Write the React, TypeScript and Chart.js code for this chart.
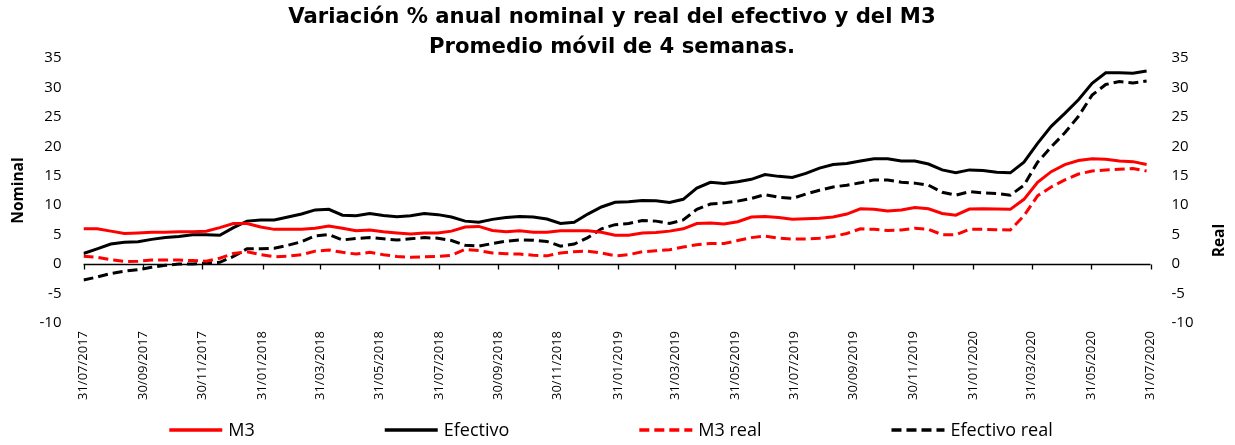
import React, { useEffect, useRef } from 'react';
import { Chart, registerables } from 'chart.js';

Chart.register(...registerables);

// X-axis tick labels (month ends, every two months)
const tickLabels = [
  '31/07/2017', '30/09/2017', '30/11/2017', '31/01/2018', '31/03/2018', '31/05/2018',
  '31/07/2018', '30/09/2018', '30/11/2018', '31/01/2019', '31/03/2019', '31/05/2019',
  '31/07/2019', '30/09/2019', '30/11/2019', '31/01/2020', '31/03/2020', '31/05/2020',
  '31/07/2020',
];

// Observations: one every two weeks starting 31/07/2017
const START_DATE = '31/07/2017';
const STEP_DAYS = 14;

const seriesNames = ['M3', 'Efectivo', 'M3 real', 'Efectivo real'];

const m3 = [
  6.0, 6.0, 5.6, 5.2, 5.3, 5.4, 5.4, 5.5, 5.5, 5.6,
  6.2, 6.9, 6.9, 6.3, 5.9, 5.9, 5.9, 6.1, 6.45, 6.1,
  5.65, 5.8, 5.5, 5.3, 5.1, 5.3, 5.3, 5.6, 6.3, 6.4,
  5.7, 5.5, 5.65, 5.4, 5.4, 5.65, 5.65, 5.65, 5.4, 4.9,
  4.9, 5.3, 5.35, 5.6, 6.0, 6.9, 7.0, 6.8, 7.2, 8.0,
  8.1, 7.9, 7.6, 7.7, 7.8, 8.0, 8.5, 9.4, 9.3, 9.0,
  9.2, 9.6, 9.4, 8.6, 8.3, 9.35, 9.4, 9.35, 9.3, 11.0,
  13.9, 15.7, 16.9, 17.6, 17.9, 17.8, 17.5, 17.4, 16.9,
];

const efectivo = [
  1.8, 2.6, 3.4, 3.7, 3.8, 4.2, 4.5, 4.7, 5.0, 5.0,
  4.9, 6.2, 7.3, 7.5, 7.5, 8.0, 8.5, 9.2, 9.3, 8.3,
  8.2, 8.6, 8.25, 8.05, 8.2, 8.6, 8.4, 8.0, 7.3, 7.1,
  7.6, 7.9, 8.1, 8.0, 7.65, 6.9, 7.1, 8.5, 9.7, 10.5,
  10.6, 10.8, 10.75, 10.45, 11.0, 12.9, 13.9, 13.7, 14.0, 14.4,
  15.2, 14.9, 14.7, 15.4, 16.3, 16.9, 17.1, 17.5, 17.9, 17.9,
  17.5, 17.5, 17.0, 16.0, 15.5, 16.0, 15.9, 15.6, 15.5, 17.3,
  20.5, 23.4, 25.6, 27.9, 30.7, 32.5, 32.5, 32.4, 32.8,
];

const m3Real = [
  1.35, 1.15, 0.75, 0.45, 0.5, 0.7, 0.7, 0.7, 0.6, 0.5,
  1.0, 1.8, 2.1, 1.6, 1.25, 1.35, 1.6, 2.2, 2.4, 2.0,
  1.7, 2.0, 1.6, 1.3, 1.15, 1.25, 1.3, 1.5, 2.5, 2.3,
  1.9, 1.75, 1.7, 1.5, 1.4, 1.9, 2.1, 2.2, 1.9, 1.4,
  1.6, 2.1, 2.25, 2.45, 2.9, 3.3, 3.5, 3.5, 4.0, 4.5,
  4.75, 4.4, 4.25, 4.25, 4.4, 4.7, 5.2, 6.0, 5.9, 5.7,
  5.8, 6.1, 5.9, 5.0, 5.0, 5.9, 5.9, 5.85, 5.8, 8.2,
  11.6, 13.1, 14.3, 15.3, 15.8, 16.0, 16.1, 16.25, 15.8,
];

const efectivoReal = [
  -2.7, -2.2, -1.6, -1.2, -0.95, -0.55, -0.2, 0.0, 0.0, 0.2,
  0.3, 1.3, 2.6, 2.6, 2.7, 3.2, 3.8, 4.8, 5.0, 4.1,
  4.35, 4.5, 4.3, 4.1, 4.3, 4.5, 4.4, 4.0, 3.2, 3.05,
  3.5, 3.9, 4.1, 4.05, 3.85, 3.05, 3.4, 4.5, 6.0, 6.7,
  6.9, 7.4, 7.3, 6.9, 7.5, 9.3, 10.2, 10.4, 10.7, 11.15,
  11.8, 11.35, 11.15, 11.9, 12.55, 13.1, 13.4, 13.8, 14.3, 14.3,
  13.9, 13.75, 13.4, 12.2, 11.7, 12.3, 12.1, 12.0, 11.7, 13.4,
  17.3, 19.9, 22.3, 25.1, 28.7, 30.5, 31.0, 30.75, 31.1,
];

const titleLines = ['Variación % anual nominal y real del efectivo y del M3', 'Promedio móvil de 4 semanas.'];
const leftAxisTitle = 'Nominal';
const rightAxisTitle = 'Real';

const RED = '#FF0000';
const BLACK = '#000000';
const DASH = [10, 5];
const FONT = "'Open Sans', sans-serif";

function toUTC(label: string) {
  const [d, m, y] = label.split('/').map(Number);
  return Date.UTC(y, m - 1, d);
}
function dayOffset(label: string) {
  return Math.round((toUTC(label) - toUTC(START_DATE)) / 86400000);
}

export default function App() {
  const ref = useRef<HTMLCanvasElement>(null);

  useEffect(() => {
    if (!ref.current) return;
    const tickDays = tickLabels.map(dayOffset);
    const toPts = (arr: number[]) => arr.map((y, i) => ({ x: i * STEP_DAYS, y }));

    const styles = [
      { color: RED, dash: [] as number[] },
      { color: BLACK, dash: [] as number[] },
      { color: RED, dash: DASH },
      { color: BLACK, dash: DASH },
    ];
    const values = [m3, efectivo, m3Real, efectivoReal];

    const extras = {
      id: 'extras',
      beforeDatasetsDraw(chart: any) {
        const { ctx, chartArea, scales } = chart;
        const y0 = Math.round(scales.y.getPixelForValue(0)) + 0.5;
        ctx.save();
        ctx.strokeStyle = '#000';
        ctx.lineWidth = 1.3;
        ctx.beginPath();
        ctx.moveTo(chartArea.left, y0);
        ctx.lineTo(chartArea.right, y0);
        tickDays.forEach((d) => {
          const px = Math.round(scales.x.getPixelForValue(d)) + 0.5;
          ctx.moveTo(px, y0);
          ctx.lineTo(px, y0 + 5);
        });
        ctx.stroke();
        ctx.restore();
      },
      afterDraw(chart: any) {
        const { ctx, chartArea, scales, width } = chart;
        ctx.save();
        ctx.fillStyle = '#000';
        // title
        ctx.font = "bold 21.2px 'DejaVu Sans', sans-serif";
        ctx.textAlign = 'center';
        ctx.textBaseline = 'middle';
        const cx = 612;
        ctx.fillText(titleLines[0], cx, 17);
        ctx.fillText(titleLines[1], cx, 47);

        // axis titles
        ctx.font = `bold 15.5px ${FONT}`;
        const yTop = scales.y.getPixelForValue(35);
        const yBot = scales.y.getPixelForValue(-10);
        ctx.save();
        ctx.translate(19, (yTop + yBot) / 2);
        ctx.rotate(-Math.PI / 2);
        ctx.fillText(leftAxisTitle, 0, 0);
        ctx.restore();
        ctx.save();
        ctx.translate(width - 15, scales.y.getPixelForValue(4));
        ctx.rotate(-Math.PI / 2);
        ctx.fillText(rightAxisTitle, 0, 0);
        ctx.restore();

        // legend
        ctx.font = `18px ${FONT}`;
        ctx.textAlign = 'left';
        const lineW = 53;
        const gap = 6;
        const spacing = 130;
        const widths = seriesNames.map((n) => lineW + gap + ctx.measureText(n).width);
        const total = widths.reduce((a, b) => a + b, 0) + spacing * (seriesNames.length - 1);
        let x = (chartArea.left + chartArea.right) / 2 - 6 - total / 2;
        const ly = 430;
        seriesNames.forEach((n, i) => {
          ctx.strokeStyle = styles[i].color;
          ctx.lineWidth = 3.5;
          ctx.setLineDash(styles[i].dash);
          ctx.beginPath();
          ctx.moveTo(x, ly);
          ctx.lineTo(x + lineW, ly);
          ctx.stroke();
          ctx.setLineDash([]);
          ctx.fillText(n, x + lineW + gap, ly + 1);
          x += widths[i] + spacing;
        });
        ctx.restore();
      },
    };

    const yTicks = (pad: number) => ({
      stepSize: 5,
      padding: pad,
      color: '#000',
      font: { family: FONT, size: 15 },
    });

    const chart = new Chart(ref.current, {
      type: 'line',
      data: {
        datasets: seriesNames.map((name, i) => ({
          label: name,
          data: toPts(values[i]),
          borderColor: styles[i].color,
          backgroundColor: styles[i].color,
          borderWidth: 3,
          borderDash: styles[i].dash,
          pointRadius: 0,
          tension: 0,
          fill: false,
          yAxisID: 'y',
        })),
      },
      options: {
        responsive: false,
        animation: false,
        events: [],
        layout: { padding: { top: 58, bottom: 38, left: 0, right: 0 } },
        plugins: {
          legend: { display: false },
          title: { display: false },
          tooltip: { enabled: false },
        },
        scales: {
          x: {
            type: 'linear',
            min: 0,
            max: tickDays[tickDays.length - 1],
            grid: { display: false, drawTicks: false },
            border: { display: false },
            afterBuildTicks: (s: any) => {
              s.ticks = tickDays.map((v) => ({ value: v }));
            },
            afterFit: (s: any) => {
              s.height = 84;
            },
            ticks: {
              autoSkip: false,
              maxRotation: 90,
              minRotation: 90,
              padding: 8,
              color: '#000',
              font: { family: FONT, size: 13 },
              callback: (_v: any, i: number) => tickLabels[i],
            },
          },
          y: {
            position: 'left',
            min: -10,
            max: 35,
            grid: { display: false, drawTicks: false },
            border: { display: false },
            ticks: yTicks(22),
            afterFit: (s: any) => {
              s.width = 83.5;
            },
          },
          y1: {
            position: 'right',
            min: -10,
            max: 35,
            grid: { display: false, drawTicks: false },
            border: { display: false },
            ticks: yTicks(21),
            afterFit: (s: any) => {
              s.width = 84.5;
            },
          },
        },
      } as any,
      plugins: [extras],
    });
    return () => chart.destroy();
  }, []);

  return (
    <div style={{ position: 'fixed', left: 0, top: 0, width: 1235, height: 445, background: '#fff' }}>
      <canvas ref={ref} width={1235} height={445} style={{ display: 'block' }} />
    </div>
  );
}
